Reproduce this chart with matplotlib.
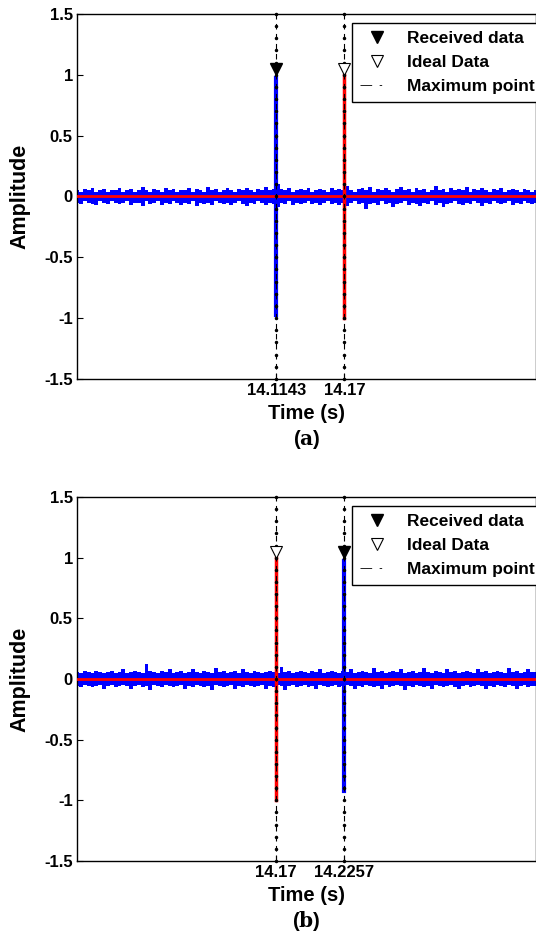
import numpy as np
import matplotlib
matplotlib.use("Agg")
import matplotlib.pyplot as plt
from matplotlib.lines import Line2D

plt.rcParams['font.family'] = ['Liberation Sans', 'DejaVu Sans']
plt.rcParams['font.weight'] = 'bold'
plt.rcParams['mathtext.fontset'] = 'dejavuserif'

# ---- data ----
xlim_a = (13.951, 14.327)
xlim_b = (14.007, 14.383)

peak_a_received = 14.1143
peak_a_ideal = 14.17
peak_b_ideal = 14.17
peak_b_received = 14.2257

marker_height = 1.05
pulse_amp_a = [0.97, -0.97]
pulse_amp_b = [0.97, -0.92]
ideal_amp = [1.0, -1.0]

yticks = [-1.5, -1, -0.5, 0, 0.5, 1, 1.5]
ytick_labels = ['-1.5', '-1', '-0.5', '0', '0.5', '1', '1.5']

# noise envelope (upper / lower magnitude) sampled across each panel
noise_up_a = [0.05, 0.04, 0.06, 0.05, 0.07, 0.04, 0.05, 0.06, 0.04, 0.05,
              0.05, 0.07, 0.04, 0.05, 0.06, 0.04, 0.05, 0.08, 0.05, 0.04,
              0.06, 0.05, 0.04, 0.07, 0.05, 0.06, 0.04, 0.05, 0.05, 0.07,
              0.04, 0.06, 0.05, 0.04, 0.08, 0.05, 0.06, 0.04, 0.05, 0.07,
              0.05, 0.04, 0.06, 0.05, 0.07, 0.05, 0.04, 0.06, 0.05, 0.08,
              0.05, 0.06, 0.10, 0.06, 0.05, 0.07, 0.04, 0.05, 0.06, 0.05,
              0.07, 0.04, 0.05, 0.06, 0.05, 0.04, 0.07, 0.05, 0.06, 0.05,
              0.09, 0.05, 0.04, 0.06, 0.07, 0.05, 0.08, 0.04, 0.06, 0.05,
              0.07, 0.05, 0.04, 0.06, 0.08, 0.05, 0.06, 0.04, 0.07, 0.05,
              0.06, 0.04, 0.05, 0.09, 0.05, 0.06, 0.04, 0.07, 0.05, 0.06,
              0.05, 0.08, 0.04, 0.06, 0.05, 0.07, 0.05, 0.04, 0.06, 0.05,
              0.07, 0.04, 0.05, 0.06, 0.05, 0.04, 0.06, 0.05, 0.04, 0.05]
noise_dn_a = [0.05, 0.06, 0.04, 0.05, 0.06, 0.07, 0.04, 0.05, 0.06, 0.04,
              0.05, 0.06, 0.05, 0.04, 0.07, 0.05, 0.05, 0.08, 0.04, 0.06,
              0.05, 0.04, 0.07, 0.05, 0.06, 0.04, 0.05, 0.07, 0.05, 0.06,
              0.04, 0.08, 0.05, 0.06, 0.05, 0.07, 0.04, 0.05, 0.06, 0.05,
              0.07, 0.05, 0.04, 0.06, 0.08, 0.05, 0.06, 0.04, 0.05, 0.07,
              0.05, 0.06, 0.09, 0.05, 0.06, 0.04, 0.07, 0.05, 0.06, 0.05,
              0.04, 0.06, 0.05, 0.07, 0.05, 0.04, 0.06, 0.05, 0.07, 0.05,
              0.08, 0.05, 0.04, 0.06, 0.05, 0.10, 0.06, 0.05, 0.07, 0.04,
              0.06, 0.05, 0.09, 0.06, 0.05, 0.04, 0.07, 0.05, 0.06, 0.08,
              0.05, 0.06, 0.04, 0.07, 0.05, 0.09, 0.06, 0.05, 0.04, 0.06,
              0.07, 0.05, 0.06, 0.04, 0.05, 0.08, 0.05, 0.06, 0.04, 0.05,
              0.06, 0.05, 0.04, 0.07, 0.05, 0.06, 0.04, 0.05, 0.06, 0.05]
noise_up_b = [0.06, 0.05, 0.07, 0.06, 0.05, 0.07, 0.06, 0.05, 0.06, 0.07,
              0.05, 0.06, 0.08, 0.05, 0.06, 0.07, 0.06, 0.05, 0.12, 0.07,
              0.06, 0.05, 0.07, 0.06, 0.08, 0.05, 0.06, 0.07, 0.05, 0.06,
              0.08, 0.06, 0.05, 0.07, 0.06, 0.05, 0.09, 0.06, 0.07, 0.05,
              0.06, 0.07, 0.05, 0.08, 0.06, 0.05, 0.07, 0.06, 0.05, 0.06,
              0.07, 0.06, 0.05, 0.10, 0.06, 0.07, 0.05, 0.06, 0.07, 0.06,
              0.05, 0.07, 0.06, 0.08, 0.05, 0.06, 0.07, 0.06, 0.05, 0.07,
              0.06, 0.08, 0.05, 0.06, 0.07, 0.06, 0.05, 0.09, 0.06, 0.07,
              0.05, 0.06, 0.07, 0.06, 0.08, 0.05, 0.06, 0.07, 0.05, 0.06,
              0.09, 0.06, 0.05, 0.07, 0.06, 0.05, 0.08, 0.06, 0.07, 0.05,
              0.06, 0.07, 0.06, 0.05, 0.08, 0.06, 0.07, 0.05, 0.06, 0.07,
              0.06, 0.05, 0.09, 0.06, 0.07, 0.05, 0.06, 0.08, 0.06, 0.06]
noise_dn_b = [0.06, 0.07, 0.05, 0.06, 0.07, 0.06, 0.05, 0.08, 0.06, 0.05,
              0.07, 0.06, 0.05, 0.06, 0.08, 0.06, 0.05, 0.07, 0.06, 0.09,
              0.05, 0.06, 0.07, 0.05, 0.06, 0.07, 0.06, 0.05, 0.08, 0.06,
              0.07, 0.05, 0.06, 0.07, 0.06, 0.09, 0.05, 0.06, 0.07, 0.06,
              0.05, 0.08, 0.06, 0.07, 0.05, 0.06, 0.07, 0.06, 0.05, 0.08,
              0.06, 0.07, 0.05, 0.06, 0.09, 0.06, 0.05, 0.07, 0.06, 0.05,
              0.07, 0.06, 0.08, 0.05, 0.06, 0.07, 0.06, 0.05, 0.07, 0.06,
              0.05, 0.06, 0.08, 0.06, 0.07, 0.05, 0.06, 0.07, 0.06, 0.08,
              0.05, 0.07, 0.06, 0.05, 0.06, 0.09, 0.06, 0.07, 0.05, 0.06,
              0.07, 0.06, 0.08, 0.05, 0.06, 0.07, 0.06, 0.05, 0.07, 0.08,
              0.06, 0.05, 0.07, 0.06, 0.05, 0.06, 0.08, 0.06, 0.07, 0.05,
              0.06, 0.07, 0.05, 0.06, 0.08, 0.06, 0.05, 0.07, 0.06, 0.06]

# dot positions along the "Maximum point" lines
max_line_levels = [round(v, 1) for v in np.arange(-1.5, 1.51, 0.1)]


def draw_panel(ax, xlim, up, dn, peak_rx, pulse_amp, peak_ideal, tag):
    # received noise band
    t = np.linspace(xlim[0], xlim[1], len(up))
    ax.fill_between(t, up, -np.array(dn), step='mid', color='blue', lw=0,
                    zorder=2)
    # received pulse
    ax.plot([peak_rx, peak_rx], pulse_amp, color='blue', lw=3, zorder=2)
    # ideal data
    ax.plot(xlim, [0, 0], color='red', lw=2.0, zorder=3)
    ax.plot([peak_ideal, peak_ideal], ideal_amp, color='red', lw=2.5, zorder=3)

    for xp in (peak_rx, peak_ideal):
        ax.plot([xp] * len(max_line_levels), max_line_levels, color='black',
                lw=0.8, ls=(0, (5, 4)), marker='.', ms=3, zorder=4,
                clip_on=False)

    ax.plot(peak_rx, marker_height, marker='v', color='black', ms=9,
            mec='black', ls='none', zorder=5)
    ax.plot(peak_ideal, marker_height, marker='v', mfc='white', mec='black',
            ms=9, mew=0.8, ls='none', zorder=5)

    ax.set_xlim(xlim)
    ax.set_ylim(-1.5, 1.5)
    ax.set_yticks(yticks)
    ax.set_yticklabels(ytick_labels)
    xt = sorted([peak_rx, peak_ideal])
    ax.set_xticks(xt)
    ax.set_xticklabels([('%.4f' % x).rstrip('0') for x in xt])
    ax.tick_params(direction='in', length=4, width=0.8, labelsize=12, pad=3)
    for lbl in ax.get_xticklabels() + ax.get_yticklabels():
        lbl.set_fontweight('bold')
    for s in ax.spines.values():
        s.set_linewidth(1.0)
    ax.set_ylabel('Amplitude', fontsize=15.5, fontweight='bold', labelpad=10)
    ax.set_xlabel('Time (s)', fontsize=14.5, fontweight='bold', labelpad=4)

    handles = [
        Line2D([], [], marker='v', color='black', ls='none', ms=9),
        Line2D([], [], marker='v', mfc='white', mec='black', mew=0.8, ls='none', ms=9),
        Line2D([], [], color='black', lw=0.6, ls=(0, (14, 9, 3, 20))),
    ]
    leg = ax.legend(handles, ['Received data', 'Ideal Data', 'Maximum point'],
                    loc='upper right', bbox_to_anchor=(1.015, 0.975),
                    prop={'family': 'Liberation Sans', 'weight': 'bold', 'size': 12.5},
                    frameon=True, fancybox=False, edgecolor='black',
                    framealpha=1, borderpad=0.45, labelspacing=0.5,
                    handlelength=2.0, handletextpad=0.75, borderaxespad=0)
    leg.get_frame().set_linewidth(1.0)
    leg.set_zorder(10)

    ax.text(0.5, -0.165, r'($\mathbf{%s}$)' % tag, transform=ax.transAxes,
            ha='center', va='center', fontsize=14.5)


fig = plt.figure(figsize=(5.36, 9.46), dpi=100)
ax_a = fig.add_axes([77 / 536, 1 - 379 / 946, 1 - 77 / 536, 365 / 946])
ax_b = fig.add_axes([77 / 536, 1 - 861 / 946, 1 - 77 / 536, 364 / 946])

draw_panel(ax_a, xlim_a, noise_up_a, noise_dn_a, peak_a_received, pulse_amp_a,
           peak_a_ideal, 'a')
draw_panel(ax_b, xlim_b, noise_up_b, noise_dn_b, peak_b_received, pulse_amp_b,
           peak_b_ideal, 'b')

fig.savefig('out.png', dpi=100)
